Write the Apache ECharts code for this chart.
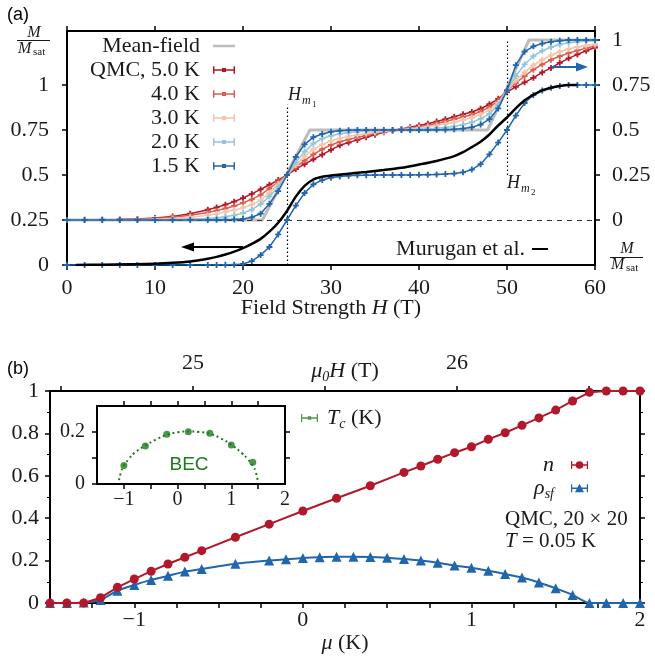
<!DOCTYPE html>
<html>
<head>
<meta charset="utf-8">
<script src="https://cdn.jsdelivr.net/npm/echarts@6/dist/echarts.min.js"></script>
<style>
html, body { margin: 0; padding: 0; background: #fff; }
#chart { width: 655px; height: 656px; }
</style>
</head>
<body>
<div id="chart"></div>
<script>
var SERIF = 'Liberation Serif';
var SANS = 'Liberation Sans';

// (a) 磁化曲线, 场强 H (T)
var fieldH = [0, 2, 4, 6, 8, 10, 12, 14, 16, 17, 18, 19, 20, 21, 22, 23, 24, 25, 26, 27, 28, 29, 30, 31, 32, 33, 34, 35, 36, 37, 38, 39, 40, 41, 42, 43, 44, 45, 46, 47, 48, 49, 50, 51, 52, 53, 54, 55, 56, 57, 58, 59, 60];
var qmc50 = [0, 0.001, 0.002, 0.003, 0.006, 0.011, 0.02, 0.035, 0.057, 0.07, 0.085, 0.102, 0.122, 0.145, 0.17, 0.196, 0.222, 0.25, 0.283, 0.31, 0.337, 0.363, 0.39, 0.415, 0.43, 0.445, 0.46, 0.474, 0.487, 0.497, 0.505, 0.515, 0.525, 0.535, 0.547, 0.56, 0.574, 0.587, 0.6, 0.618, 0.643, 0.673, 0.71, 0.74, 0.765, 0.79, 0.82, 0.845, 0.873, 0.898, 0.92, 0.94, 0.958];
var qmc40 = [0, 0, 0.001, 0.002, 0.004, 0.008, 0.015, 0.026, 0.042, 0.052, 0.064, 0.078, 0.095, 0.115, 0.14, 0.175, 0.212, 0.25, 0.295, 0.33, 0.365, 0.393, 0.417, 0.435, 0.448, 0.46, 0.47, 0.48, 0.489, 0.496, 0.503, 0.51, 0.518, 0.526, 0.536, 0.547, 0.56, 0.572, 0.585, 0.602, 0.627, 0.662, 0.72, 0.76, 0.8, 0.835, 0.865, 0.89, 0.91, 0.927, 0.942, 0.955, 0.965];
var qmc30 = [0, 0, 0, 0.001, 0.002, 0.004, 0.008, 0.015, 0.026, 0.034, 0.044, 0.055, 0.068, 0.085, 0.11, 0.15, 0.198, 0.25, 0.305, 0.355, 0.393, 0.42, 0.44, 0.454, 0.465, 0.473, 0.48, 0.487, 0.493, 0.498, 0.502, 0.507, 0.512, 0.518, 0.525, 0.533, 0.543, 0.555, 0.568, 0.585, 0.61, 0.65, 0.72, 0.775, 0.82, 0.86, 0.89, 0.915, 0.935, 0.95, 0.962, 0.97, 0.977];
var qmc20 = [0, 0, 0, 0, 0.001, 0.002, 0.003, 0.005, 0.009, 0.012, 0.018, 0.026, 0.038, 0.057, 0.088, 0.13, 0.185, 0.25, 0.32, 0.38, 0.425, 0.452, 0.468, 0.479, 0.486, 0.49, 0.494, 0.496, 0.498, 0.5, 0.501, 0.502, 0.504, 0.507, 0.51, 0.514, 0.52, 0.53, 0.543, 0.562, 0.59, 0.64, 0.72, 0.8, 0.865, 0.91, 0.94, 0.96, 0.975, 0.985, 0.99, 0.995, 0.997];
var qmc15 = [0, 0, 0, 0, 0, 0, 0, 0, 0, 0.001, 0.002, 0.003, 0.006, 0.015, 0.035, 0.09, 0.16, 0.25, 0.35, 0.42, 0.46, 0.478, 0.49, 0.496, 0.499, 0.5, 0.5, 0.5, 0.5, 0.5, 0.5, 0.5, 0.5, 0.5, 0.501, 0.502, 0.504, 0.508, 0.515, 0.53, 0.56, 0.62, 0.72, 0.86, 0.935, 0.965, 0.98, 0.99, 0.996, 1, 1, 1, 1];
var qmc15Left = [0, 0, 0, 0, 0, 0, 0, 0, 0, 0, 0.001, 0.002, 0.006, 0.022, 0.055, 0.1, 0.17, 0.25, 0.33, 0.4, 0.448, 0.472, 0.485, 0.492, 0.496, 0.498, 0.499, 0.5, 0.5, 0.5, 0.5, 0.5, 0.501, 0.502, 0.503, 0.505, 0.508, 0.515, 0.53, 0.56, 0.615, 0.68, 0.75, 0.83, 0.9, 0.945, 0.97, 0.985, 0.995, 1, 1, 1, 1];
var murH = [1, 4, 7, 10, 12, 14, 16, 17, 18, 19, 20, 21, 22, 23, 24, 25, 26, 27, 28, 29, 30, 32, 34, 36, 38, 40, 42, 44, 45, 46, 47, 48, 49, 50, 51, 52, 53, 54, 55, 56, 57, 58];
var murM = [0, 0.002, 0.004, 0.007, 0.012, 0.02, 0.035, 0.045, 0.058, 0.074, 0.094, 0.117, 0.145, 0.185, 0.235, 0.3, 0.38, 0.44, 0.475, 0.49, 0.497, 0.507, 0.517, 0.528, 0.54, 0.558, 0.578, 0.605, 0.627, 0.655, 0.685, 0.725, 0.775, 0.82, 0.87, 0.915, 0.945, 0.97, 0.985, 0.995, 1, 1];
var mfH = [0, 22.2, 27.6, 47.8, 52.5, 60];
var mfM = [0, 0, 0.5, 0.5, 1, 1];
var magTicks = [0, 0.25, 0.5, 0.75, 1];
var hm1 = 25, hm1Top = 0.89;
var hm2 = 50, hm2Bottom = 0.5, hm2Top = 1.25;

// (b) n 和 rho_sf 随 mu (K)
var muN = [-1.5, -1.4, -1.3, -1.2, -1.1, -1.0, -0.9, -0.8, -0.7, -0.6, -0.4, -0.2, 0, 0.2, 0.4, 0.6, 0.7, 0.8, 0.9, 1.0, 1.1, 1.2, 1.3, 1.4, 1.5, 1.6, 1.7, 1.8, 1.9, 2.0];
var nVals = [0, 0, 0, 0.025, 0.074, 0.113, 0.15, 0.184, 0.216, 0.247, 0.31, 0.372, 0.434, 0.494, 0.553, 0.616, 0.646, 0.678, 0.709, 0.737, 0.772, 0.803, 0.838, 0.873, 0.91, 0.953, 0.994, 1, 1, 1];
var muRho = [-1.5, -1.4, -1.3, -1.2, -1.1, -1.0, -0.9, -0.8, -0.7, -0.6, -0.4, -0.2, -0.1, 0, 0.1, 0.2, 0.3, 0.4, 0.5, 0.6, 0.7, 0.8, 0.9, 1.0, 1.1, 1.2, 1.3, 1.4, 1.5, 1.6, 1.7, 1.8, 1.9, 2.0];
var rhoVals = [0, 0, 0.002, 0.014, 0.058, 0.085, 0.109, 0.128, 0.148, 0.16, 0.185, 0.2, 0.206, 0.212, 0.216, 0.218, 0.218, 0.217, 0.213, 0.207, 0.2, 0.19, 0.177, 0.166, 0.152, 0.137, 0.12, 0.097, 0.069, 0.038, 0, 0, 0, 0];
var tcMu = [-1.0, -0.6, -0.2, 0.2, 0.6, 1.0, 1.4];
var tcVals = [0.071, 0.146, 0.191, 0.201, 0.195, 0.15, 0.084];
var fitMu = [-1.09, -1.05, -1.0, -0.9, -0.8, -0.6, -0.4, -0.2, 0, 0.2, 0.4, 0.6, 0.8, 1.0, 1.2, 1.3, 1.4, 1.45, 1.49];
var fitT = [0.015, 0.048, 0.07, 0.098, 0.12, 0.148, 0.171, 0.189, 0.199, 0.202, 0.2, 0.193, 0.176, 0.151, 0.118, 0.097, 0.07, 0.05, 0.015];
var muLabels = [-1, 0, 1, 2];
var teslaMin = 24.4585, teslaMax = 26.6935;
var teslaLabels = [25, 26];
var teslaTicks = [24.5, 25, 25.5, 26, 26.5];

var PLUS = 'path://M-1,-0.3H1V0.3H-1Z M-0.3,-1H0.3V1H-0.3Z';
var BAR_ICON = 'path://M0,1H1.6V9H0Z M0,4.3H24V5.7H0Z M22.4,1H24V9H22.4Z M9.8,2.8H14.2V7.2H9.8Z';
var LINE_ICON = 'path://M0,0L0.01,0L0,0.01Z M0,3.6H24V6.4H0Z M0,10L0.01,10L0,9.99Z';
var DOT_ICON = 'path://M0,1H1.2V9H0Z M0,4.3H17V5.7H0Z M15.8,1H17V9H15.8Z M8.5,1.2A3.8,3.8,0,1,1,8.49,1.2Z';
var TRI_ICON = 'path://M0,1H1.2V9H0Z M0,4.3H17V5.7H0Z M15.8,1H17V9H15.8Z M8.5,0.6L13,9H4Z';
var TC_ICON = 'path://M0,1H1.2V9H0Z M0,4.3H17V5.7H0Z M15.8,1H17V9H15.8Z M6.8,3.2H10.2V6.8H6.8Z';

function pairs(xs, ys) {
    return xs.map(function (x, i) { return [x, ys[i]]; });
}
function signed(v) {
    return v < 0 ? '\u2212' + Math.abs(v) : String(v);
}
var rich = {
    i: {fontFamily: SERIF, fontStyle: 'italic', fontSize: 22, lineHeight: 26},
    r: {fontFamily: SERIF, fontSize: 22, lineHeight: 26},
    s: {fontFamily: SERIF, fontStyle: 'italic', fontSize: 14, verticalAlign: 'bottom', lineHeight: 26}
};

function axis(o) {
    return {
        type: 'value', gridIndex: o.grid, position: o.pos,
        min: o.min, max: o.max, interval: o.interval,
        name: o.name, nameLocation: 'middle', nameGap: o.nameGap, nameMoveOverlap: false,
        nameTextStyle: {fontFamily: SERIF, fontSize: 22, color: '#1a1a1a', rich: rich},
        splitLine: {show: false},
        axisLine: {show: true, onZero: false, lineStyle: {color: '#000', width: 2}},
        axisTick: {show: true, length: 5, customValues: o.ticks, lineStyle: {color: '#000', width: 1.5}},
        minorTick: {show: !!o.minor, splitNumber: o.minor || 5, length: 3, lineStyle: {color: '#000', width: 1}},
        axisLabel: {show: !!o.showLabels, customValues: o.labels, margin: o.margin, formatter: o.fmt,
            color: '#1a1a1a', fontFamily: SERIF, fontSize: o.fontSize || 22}
    };
}

var qmcColors = ['#b2182b', '#d6604d', '#f8c3a6', '#92c5de', '#2166ac'];
var qmcNames = ['QMC, 5.0 K', '4.0 K', '3.0 K', '2.0 K', '1.5 K'];
var qmcData = [qmc50, qmc40, qmc30, qmc20, qmc15];

var series = [{
    name: 'Mean-field', type: 'line', xAxisIndex: 0, yAxisIndex: 1,
    data: pairs(mfH, mfM), showSymbol: false, z: 1,
    itemStyle: {color: '#bdbdbd'}, lineStyle: {color: '#bdbdbd', width: 3},
    markLine: {silent: true, symbol: ['none', 'none'], label: {show: false},
        lineStyle: {color: '#333', type: [5, 5], width: 1},
        data: [{yAxis: 0}]}
}];
qmcData.forEach(function (vals, k) {
    series.push({
        name: qmcNames[k], type: 'line', xAxisIndex: 0, yAxisIndex: 1,
        data: pairs(fieldH, vals), symbol: PLUS, symbolSize: 6, z: 3 + k,
        itemStyle: {color: qmcColors[k]}, lineStyle: {color: qmcColors[k], width: 1.5}
    });
});
series.push({
    name: '1.5 K left', type: 'line', xAxisIndex: 0, yAxisIndex: 0,
    data: pairs(fieldH, qmc15Left), symbol: PLUS, symbolSize: 6, z: 8,
    itemStyle: {color: '#2166ac'}, lineStyle: {color: '#2166ac', width: 1.5}
});
series.push({
    name: 'Murugan et al.', type: 'line', xAxisIndex: 0, yAxisIndex: 0,
    data: pairs(murH, murM), showSymbol: false, smooth: 0.3, z: 9,
    itemStyle: {color: '#000'}, lineStyle: {color: '#000', width: 2.5},
    markLine: {silent: true, symbol: ['none', 'none'], label: {show: false},
        lineStyle: {color: '#000', type: [1.5, 2.5], width: 1.2},
        data: [[{coord: [hm1, 0]}, {coord: [hm1, hm1Top]}],
               [{coord: [hm2, hm2Bottom]}, {coord: [hm2, hm2Top]}]]}
});
series.push({
    name: 'n', type: 'line', xAxisIndex: 2, yAxisIndex: 2,
    data: pairs(muN, nVals), symbol: 'circle', symbolSize: 9, z: 4,
    itemStyle: {color: '#b2182b'}, lineStyle: {color: '#b2182b', width: 2}
});
series.push({
    name: 'rho', type: 'line', xAxisIndex: 2, yAxisIndex: 2,
    data: pairs(muRho, rhoVals), symbol: 'triangle', symbolSize: 10, smooth: 0.2, z: 3,
    itemStyle: {color: '#2166ac'}, lineStyle: {color: '#2166ac', width: 2}
});
series.push({
    name: 'fit', type: 'line', xAxisIndex: 4, yAxisIndex: 4,
    data: pairs(fitMu, fitT), showSymbol: false, smooth: true, z: 5,
    lineStyle: {color: '#1f7a1f', width: 2, type: [2, 3]}
});
series.push({
    name: 'Tc', type: 'scatter', xAxisIndex: 4, yAxisIndex: 4,
    data: pairs(tcMu, tcVals), symbol: 'circle', symbolSize: 7, z: 6,
    itemStyle: {color: '#1f7a1f'}
});

var legendText = {fontFamily: SERIF, fontSize: 22, color: '#1a1a1a', lineHeight: 21};

var option = {
    animation: false,
    textStyle: {fontFamily: SERIF},
    grid: [
        {left: 67, top: 31, width: 528, height: 234},
        {left: 50, top: 391, width: 590, height: 212},
        {left: 97, top: 406, width: 188, height: 78, show: true, backgroundColor: '#fff', borderWidth: 0}
    ],
    xAxis: [
        axis({grid: 0, pos: 'bottom', min: 0, max: 60, interval: 10, showLabels: true, margin: 12,
            name: '{r|Field Strength }{i|H}{r| (T)}', nameGap: 30}),
        axis({grid: 0, pos: 'top', min: 0, max: 60, interval: 10}),
        axis({grid: 1, pos: 'bottom', min: -1.5, max: 2, interval: 0.25, showLabels: true,
            labels: muLabels, fmt: signed, margin: 6, name: '{i|μ}{r| (K)}', nameGap: 27}),
        axis({grid: 1, pos: 'top', min: teslaMin, max: teslaMax, ticks: teslaTicks, showLabels: true,
            labels: teslaLabels, margin: 17, name: '{i|μ}{s|0}{i|H}{r| (T)}', nameGap: 7}),
        axis({grid: 2, pos: 'bottom', min: -1.5, max: 2, ticks: [-1, -0.5, 0, 0.5, 1, 1.5],
            showLabels: true, labels: muLabels, fmt: signed, margin: 6, fontSize: 20}),
        axis({grid: 2, pos: 'top', min: -1.5, max: 2, ticks: [-1, -0.5, 0, 0.5, 1, 1.5]})
    ],
    yAxis: [
        axis({grid: 0, pos: 'left', min: 0, max: 1.3, ticks: magTicks, showLabels: true, labels: magTicks, margin: 18}),
        axis({grid: 0, pos: 'right', min: -0.25, max: 1.05, ticks: magTicks, showLabels: true, labels: magTicks, margin: 17}),
        axis({grid: 1, pos: 'left', min: 0, max: 1, interval: 0.2, minor: 2, showLabels: true, margin: 11}),
        axis({grid: 1, pos: 'right', min: 0, max: 1, interval: 0.2, minor: 2}),
        axis({grid: 2, pos: 'left', min: 0, max: 0.3, ticks: [0, 0.1, 0.2], showLabels: true,
            labels: [0, 0.2], margin: 12, fontSize: 20}),
        axis({grid: 2, pos: 'right', min: 0, max: 0.3, ticks: [0.1, 0.2]})
    ],
    legend: [{
        orient: 'vertical', align: 'right', right: 415, top: 30, itemGap: 2,
        itemWidth: 22, itemHeight: 10, selectedMode: false,
        textStyle: Object.assign({padding: [0, 8, 0, 0]}, legendText),
        data: [{name: 'Mean-field', icon: LINE_ICON}].concat(qmcNames.map(function (n) {
            return {name: n, icon: BAR_ICON};
        }))
    }, {
        orient: 'vertical', align: 'right', right: 102, top: 233,
        itemWidth: 16, itemHeight: 10, selectedMode: false,
        textStyle: Object.assign({padding: [0, 2, 0, 0]}, legendText),
        data: [{name: 'Murugan et al.', icon: LINE_ICON}]
    }, {
        orient: 'vertical', align: 'right', right: 62, top: 447, itemGap: -3,
        itemWidth: 17, itemHeight: 10, selectedMode: false,
        textStyle: Object.assign({padding: [0, 12, 0, 0], rich: rich}, legendText),
        formatter: function (name) { return name === 'n' ? '{i|n}' : '{i|ρ}{s|sf}'; },
        data: [{name: 'n', icon: DOT_ICON}, {name: 'rho', icon: TRI_ICON}]
    }, {
        orient: 'vertical', align: 'left', left: 296, top: 400,
        itemWidth: 17, itemHeight: 10, selectedMode: false,
        textStyle: Object.assign({padding: [0, 0, 0, 4], rich: rich}, legendText),
        formatter: function () { return '{i|T}{s|c}{r| (K)}'; },
        data: [{name: 'Tc', icon: TC_ICON}]
    }],
    graphic: [
        {type: 'text', left: 7, top: 6, z: 100, style: {text: '(a)', font: '18px ' + SANS, fill: '#000'}},
        {type: 'text', left: 7, top: 360, z: 100, style: {text: '(b)', font: '18px ' + SANS, fill: '#000'}},
        // 左上 M/Msat
        {type: 'text', z: 100, x: 34, y: 33, style: {text: 'M', font: 'italic 16px ' + SERIF, fill: '#1a1a1a', align: 'center', verticalAlign: 'middle'}},
        {type: 'line', z: 100, shape: {x1: 17, y1: 40.5, x2: 50, y2: 40.5}, style: {stroke: '#1a1a1a', lineWidth: 1}},
        {type: 'text', z: 100, x: 18, y: 49, style: {text: 'M', font: 'italic 16px ' + SERIF, fill: '#1a1a1a', align: 'left', verticalAlign: 'middle'}},
        {type: 'text', z: 100, x: 33, y: 52, style: {text: 'sat', font: '11px ' + SERIF, fill: '#1a1a1a', align: 'left', verticalAlign: 'middle'}},
        // 右侧 M/Msat
        {type: 'text', z: 100, x: 627, y: 249, style: {text: 'M', font: 'italic 16px ' + SERIF, fill: '#1a1a1a', align: 'center', verticalAlign: 'middle'}},
        {type: 'line', z: 100, shape: {x1: 610, y1: 257.5, x2: 643, y2: 257.5}, style: {stroke: '#1a1a1a', lineWidth: 1}},
        {type: 'text', z: 100, x: 611, y: 265, style: {text: 'M', font: 'italic 16px ' + SERIF, fill: '#1a1a1a', align: 'left', verticalAlign: 'middle'}},
        {type: 'text', z: 100, x: 626, y: 268, style: {text: 'sat', font: '11px ' + SERIF, fill: '#1a1a1a', align: 'left', verticalAlign: 'middle'}},
        // H_m1, H_m2
        {type: 'text', z: 100, x: 288, y: 104, style: {text: 'H', font: 'italic 18px ' + SERIF, fill: '#1a1a1a', verticalAlign: 'bottom'}},
        {type: 'text', z: 100, x: 302, y: 107, style: {text: 'm', font: 'italic 12px ' + SERIF, fill: '#1a1a1a', verticalAlign: 'bottom'}},
        {type: 'text', z: 100, x: 312, y: 109, style: {text: '1', font: '9px ' + SERIF, fill: '#1a1a1a', verticalAlign: 'bottom'}},
        {type: 'text', z: 100, x: 507, y: 192, style: {text: 'H', font: 'italic 18px ' + SERIF, fill: '#1a1a1a', verticalAlign: 'bottom'}},
        {type: 'text', z: 100, x: 521, y: 195, style: {text: 'm', font: 'italic 12px ' + SERIF, fill: '#1a1a1a', verticalAlign: 'bottom'}},
        {type: 'text', z: 100, x: 531, y: 197, style: {text: '2', font: '9px ' + SERIF, fill: '#1a1a1a', verticalAlign: 'bottom'}},
        // 箭头
        {type: 'line', z: 100, shape: {x1: 243, y1: 247, x2: 190, y2: 247}, style: {stroke: '#000', lineWidth: 2}},
        {type: 'polygon', z: 100, shape: {points: [[181, 247], [194, 242.5], [194, 251.5]]}, style: {fill: '#000'}},
        {type: 'line', z: 100, shape: {x1: 552, y1: 67, x2: 579, y2: 67}, style: {stroke: '#2166ac', lineWidth: 2}},
        {type: 'polygon', z: 100, shape: {points: [[588, 67], [576, 62.5], [576, 71.5]]}, style: {fill: '#2166ac'}},
        // 注释
        {type: 'text', z: 100, x: 505, y: 519, style: {text: 'QMC, 20 × 20', font: '21px ' + SERIF, fill: '#1a1a1a', verticalAlign: 'middle'}},
        {type: 'text', z: 100, x: 505, y: 541, style: {text: '{i|T} = 0.05 K', font: '21px ' + SERIF, fill: '#1a1a1a', verticalAlign: 'middle', rich: {i: {fontFamily: SERIF, fontStyle: 'italic', fontSize: 21}}}},
        {type: 'text', z: 100, x: 189, y: 465, style: {text: 'BEC', font: '19px ' + SANS, fill: '#1f7a1f', align: 'center', verticalAlign: 'middle'}}
    ],
    series: series
};

var myChart = echarts.init(document.getElementById('chart'));
myChart.setOption(option);
</script>
</body>
</html>
